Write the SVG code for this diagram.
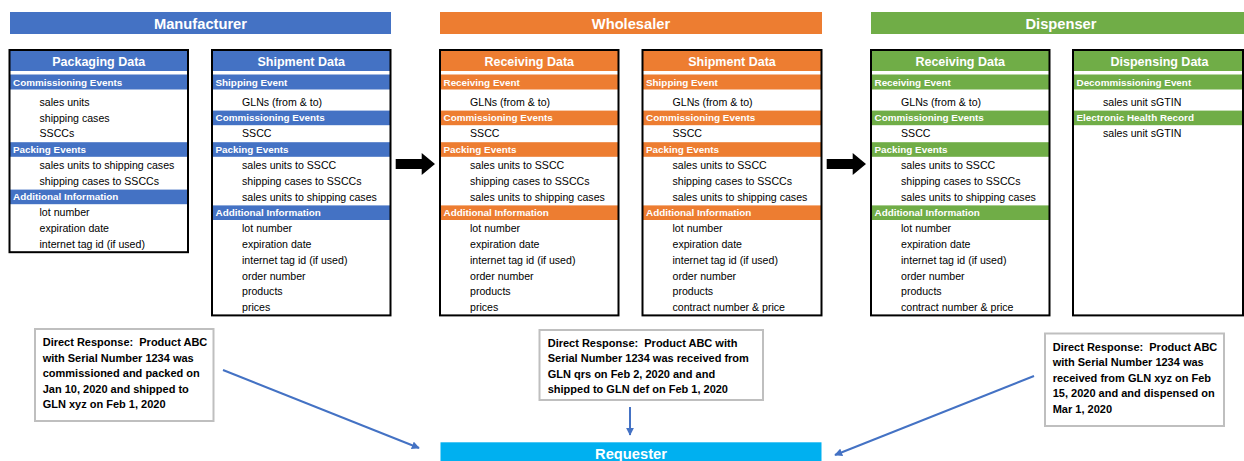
<svg xmlns="http://www.w3.org/2000/svg" width="1244" height="461" viewBox="0 0 1244 461">
  <style>
    .b { fill: #4472C4; }
    .o { fill: #ED7D31; }
    .g { fill: #70AD47; }
    .frame { fill: none; stroke: #000; stroke-width: 2; }
    .sec { font: bold 14.7px "Liberation Sans", Arial, sans-serif; fill: #fff; text-anchor: middle; }
    .th { font: bold 12.5px "Liberation Sans", Arial, sans-serif; fill: #fff; text-anchor: middle; }
    .bt { font: bold 9.9px "Liberation Sans", Arial, sans-serif; fill: #fff; }
    .it { font: 10.6px "Liberation Sans", Arial, sans-serif; fill: #000; }
    .resp-box { fill: #fff; stroke: #BFBFBF; stroke-width: 2; }
    .resp { font: bold 11px "Liberation Sans", Arial, sans-serif; fill: #000; white-space: pre; }
    .link { stroke: #4472C4; stroke-width: 2; fill: none; marker-end: url(#blue-head); }
  </style>
  <defs>
    <marker id="blue-head" viewBox="0 0 10 10" refX="9" refY="5" markerWidth="4" markerHeight="4" orient="auto" markerUnits="strokeWidth">
      <path d="M0,0 L10,5 L0,10 z" fill="#4472C4"/>
    </marker>
  </defs>

  <rect width="1244" height="461" fill="#fff"/>

  <!-- stage banners -->
  <g id="manufacturer">
    <rect class="b" x="10" y="12" width="381" height="22"/>
    <text class="sec" x="200.5" y="29.3">Manufacturer</text>
  </g>
  <g id="wholesaler">
    <rect class="o" x="440" y="12" width="382" height="22"/>
    <text class="sec" x="631" y="29.3">Wholesaler</text>
  </g>
  <g id="dispenser">
    <rect class="g" x="871" y="12" width="373" height="22"/>
    <text class="sec" x="1061" y="29.3">Dispenser</text>
  </g>

  <!-- Manufacturer: packaging data -->
  <g id="mfr-packaging-data" transform="translate(9.5,0)">
    <rect class="b" x="0" y="50" width="178.5" height="21"/>
    <text class="th" x="89.25" y="66">Packaging Data</text>
    <rect class="b" x="0" y="74.5" width="178.5" height="15"/>
    <text class="bt" x="3.5" y="85.5">Commissioning Events</text>
    <text class="it" x="30" y="105.5">sales units</text>
    <text class="it" x="30" y="121.5">shipping cases</text>
    <text class="it" x="30" y="137.3">SSCCs</text>
    <rect class="b" x="0" y="142.2" width="178.5" height="14.6"/>
    <text class="bt" x="3.5" y="152.6">Packing Events</text>
    <text class="it" x="30" y="168.9">sales units to shipping cases</text>
    <text class="it" x="30" y="184.7">shipping cases to SSCCs</text>
    <rect class="b" x="0" y="189.6" width="178.5" height="14.6"/>
    <text class="bt" x="3.5" y="200">Additional Information</text>
    <text class="it" x="30" y="216.3">lot number</text>
    <text class="it" x="30" y="232.1">expiration date</text>
    <text class="it" x="30" y="247.9">internet tag id (if used)</text>
    <rect class="frame" x="0" y="50" width="178.5" height="202.2"/>
  </g>

  <!-- Manufacturer: shipment data -->
  <g id="mfr-shipment-data" transform="translate(212,0)">
    <rect class="b" x="0" y="50" width="178.5" height="21"/>
    <text class="th" x="89.25" y="66">Shipment Data</text>
    <rect class="b" x="0" y="74.5" width="178.5" height="15"/>
    <text class="bt" x="3.5" y="85.5">Shipping Event</text>
    <text class="it" x="30" y="105.5">GLNs (from &amp; to)</text>
    <rect class="b" x="0" y="110.6" width="178.5" height="14.6"/>
    <text class="bt" x="3.5" y="121">Commissioning Events</text>
    <text class="it" x="30" y="137.3">SSCC</text>
    <rect class="b" x="0" y="142.2" width="178.5" height="14.6"/>
    <text class="bt" x="3.5" y="152.6">Packing Events</text>
    <text class="it" x="30" y="168.9">sales units to SSCC</text>
    <text class="it" x="30" y="184.7">shipping cases to SSCCs</text>
    <text class="it" x="30" y="200.5">sales units to shipping cases</text>
    <rect class="b" x="0" y="205.4" width="178.5" height="14.6"/>
    <text class="bt" x="3.5" y="215.8">Additional Information</text>
    <text class="it" x="30" y="232.1">lot number</text>
    <text class="it" x="30" y="247.9">expiration date</text>
    <text class="it" x="30" y="263.7">internet tag id (if used)</text>
    <text class="it" x="30" y="279.5">order number</text>
    <text class="it" x="30" y="295.3">products</text>
    <text class="it" x="30" y="311.1">prices</text>
    <rect class="frame" x="0" y="50" width="178.5" height="265.4"/>
  </g>

  <!-- Wholesaler: receiving data -->
  <g id="whs-receiving-data" transform="translate(440,0)">
    <rect class="o" x="0" y="50" width="178.5" height="21"/>
    <text class="th" x="89.25" y="66">Receiving Data</text>
    <rect class="o" x="0" y="74.5" width="178.5" height="15"/>
    <text class="bt" x="3.5" y="85.5">Receiving Event</text>
    <text class="it" x="30" y="105.5">GLNs (from &amp; to)</text>
    <rect class="o" x="0" y="110.6" width="178.5" height="14.6"/>
    <text class="bt" x="3.5" y="121">Commissioning Events</text>
    <text class="it" x="30" y="137.3">SSCC</text>
    <rect class="o" x="0" y="142.2" width="178.5" height="14.6"/>
    <text class="bt" x="3.5" y="152.6">Packing Events</text>
    <text class="it" x="30" y="168.9">sales units to SSCC</text>
    <text class="it" x="30" y="184.7">shipping cases to SSCCs</text>
    <text class="it" x="30" y="200.5">sales units to shipping cases</text>
    <rect class="o" x="0" y="205.4" width="178.5" height="14.6"/>
    <text class="bt" x="3.5" y="215.8">Additional Information</text>
    <text class="it" x="30" y="232.1">lot number</text>
    <text class="it" x="30" y="247.9">expiration date</text>
    <text class="it" x="30" y="263.7">internet tag id (if used)</text>
    <text class="it" x="30" y="279.5">order number</text>
    <text class="it" x="30" y="295.3">products</text>
    <text class="it" x="30" y="311.1">prices</text>
    <rect class="frame" x="0" y="50" width="178.5" height="265.4"/>
  </g>

  <!-- Wholesaler: shipment data -->
  <g id="whs-shipment-data" transform="translate(642.5,0)">
    <rect class="o" x="0" y="50" width="179" height="21"/>
    <text class="th" x="89.5" y="66">Shipment Data</text>
    <rect class="o" x="0" y="74.5" width="179" height="15"/>
    <text class="bt" x="3.5" y="85.5">Shipping Event</text>
    <text class="it" x="30" y="105.5">GLNs (from &amp; to)</text>
    <rect class="o" x="0" y="110.6" width="179" height="14.6"/>
    <text class="bt" x="3.5" y="121">Commissioning Events</text>
    <text class="it" x="30" y="137.3">SSCC</text>
    <rect class="o" x="0" y="142.2" width="179" height="14.6"/>
    <text class="bt" x="3.5" y="152.6">Packing Events</text>
    <text class="it" x="30" y="168.9">sales units to SSCC</text>
    <text class="it" x="30" y="184.7">shipping cases to SSCCs</text>
    <text class="it" x="30" y="200.5">sales units to shipping cases</text>
    <rect class="o" x="0" y="205.4" width="179" height="14.6"/>
    <text class="bt" x="3.5" y="215.8">Additional Information</text>
    <text class="it" x="30" y="232.1">lot number</text>
    <text class="it" x="30" y="247.9">expiration date</text>
    <text class="it" x="30" y="263.7">internet tag id (if used)</text>
    <text class="it" x="30" y="279.5">order number</text>
    <text class="it" x="30" y="295.3">products</text>
    <text class="it" x="30" y="311.1">contract number &amp; price</text>
    <rect class="frame" x="0" y="50" width="179" height="265.4"/>
  </g>

  <!-- Dispenser: receiving data -->
  <g id="dsp-receiving-data" transform="translate(871,0)">
    <rect class="g" x="0" y="50" width="178.5" height="21"/>
    <text class="th" x="89.25" y="66">Receiving Data</text>
    <rect class="g" x="0" y="74.5" width="178.5" height="15"/>
    <text class="bt" x="3.5" y="85.5">Receiving Event</text>
    <text class="it" x="30" y="105.5">GLNs (from &amp; to)</text>
    <rect class="g" x="0" y="110.6" width="178.5" height="14.6"/>
    <text class="bt" x="3.5" y="121">Commissioning Events</text>
    <text class="it" x="30" y="137.3">SSCC</text>
    <rect class="g" x="0" y="142.2" width="178.5" height="14.6"/>
    <text class="bt" x="3.5" y="152.6">Packing Events</text>
    <text class="it" x="30" y="168.9">sales units to SSCC</text>
    <text class="it" x="30" y="184.7">shipping cases to SSCCs</text>
    <text class="it" x="30" y="200.5">sales units to shipping cases</text>
    <rect class="g" x="0" y="205.4" width="178.5" height="14.6"/>
    <text class="bt" x="3.5" y="215.8">Additional Information</text>
    <text class="it" x="30" y="232.1">lot number</text>
    <text class="it" x="30" y="247.9">expiration date</text>
    <text class="it" x="30" y="263.7">internet tag id (if used)</text>
    <text class="it" x="30" y="279.5">order number</text>
    <text class="it" x="30" y="295.3">products</text>
    <text class="it" x="30" y="311.1">contract number &amp; price</text>
    <rect class="frame" x="0" y="50" width="178.5" height="265.4"/>
  </g>

  <!-- Dispenser: dispensing data -->
  <g id="dsp-dispensing-data" transform="translate(1073,0)">
    <rect class="g" x="0" y="50" width="170" height="21"/>
    <text class="th" x="86.5" y="66">Dispensing Data</text>
    <rect class="g" x="0" y="74.5" width="170" height="15"/>
    <text class="bt" x="3.5" y="85.5">Decommissioning Event</text>
    <text class="it" x="30" y="105.5">sales unit sGTIN</text>
    <rect class="g" x="0" y="110.6" width="170" height="14.6"/>
    <text class="bt" x="3.5" y="121">Electronic Health Record</text>
    <text class="it" x="30" y="137.3">sales unit sGTIN</text>
    <rect class="frame" x="0" y="50" width="170" height="265.4"/>
  </g>

  <!-- direct responses -->
  <g id="response-manufacturer">
    <rect class="resp-box" x="35" y="329" width="178.5" height="92"/>
    <text class="resp" x="42.7" y="346.3">Direct Response:  Product ABC</text>
    <text class="resp" x="42.7" y="361.8">with Serial Number 1234 was</text>
    <text class="resp" x="42.7" y="377.3">commissioned and packed on</text>
    <text class="resp" x="42.7" y="392.8">Jan 10, 2020 and shipped to</text>
    <text class="resp" x="42.7" y="408.3">GLN xyz on Feb 1, 2020</text>
  </g>
  <g id="response-wholesaler">
    <rect class="resp-box" x="539.5" y="330" width="223.5" height="70"/>
    <text class="resp" x="547.7" y="346.7">Direct Response:  Product ABC with</text>
    <text class="resp" x="547.7" y="362.2">Serial Number 1234 was received from</text>
    <text class="resp" x="547.7" y="377.7">GLN qrs on Feb 2, 2020 and and</text>
    <text class="resp" x="547.7" y="393.2">shipped to GLN def on Feb 1, 2020</text>
  </g>
  <g id="response-dispenser">
    <rect class="resp-box" x="1045" y="333.5" width="179" height="92.5"/>
    <text class="resp" x="1052.7" y="350.7">Direct Response:  Product ABC</text>
    <text class="resp" x="1052.7" y="366.2">with Serial Number 1234 was</text>
    <text class="resp" x="1052.7" y="381.7">received from GLN xyz on Feb</text>
    <text class="resp" x="1052.7" y="397.2">15, 2020 and and dispensed on</text>
    <text class="resp" x="1052.7" y="412.7">Mar 1, 2020</text>
  </g>

  <!-- requester -->
  <g id="requester">
    <rect x="440.5" y="442.3" width="381" height="25" fill="#00B0F0"/>
    <text class="sec" x="631" y="458.6">Requester</text>
  </g>

  <!-- connectors -->
  <g id="connectors">
    <polygon points="395.7,159 421.7,159 421.7,153 435,164 421.7,175 421.7,169 395.7,169" fill="#000"/>
    <polygon points="826.7,159 852.7,159 852.7,153 866,164 852.7,175 852.7,169 826.7,169" fill="#000"/>
    <line class="link" x1="223" y1="370" x2="419" y2="448"/>
    <line class="link" x1="630" y1="407" x2="630" y2="435"/>
    <line class="link" x1="1034" y1="376" x2="835" y2="455"/>
  </g>
</svg>
